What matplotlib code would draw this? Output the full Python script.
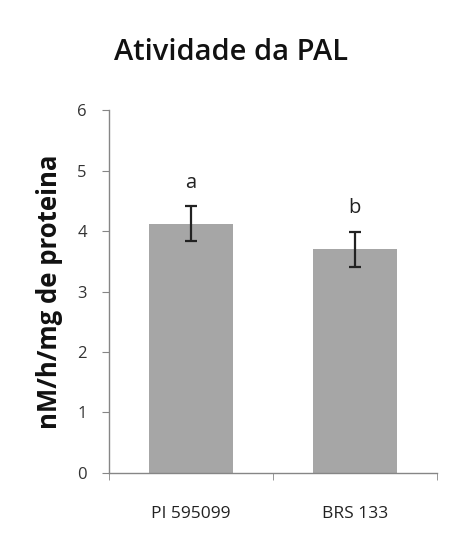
import matplotlib
matplotlib.use("Agg")
import matplotlib.pyplot as plt
import numpy as np

categories = ["PI 595099", "BRS 133"]
values = [4.12, 3.70]
errors = [0.29, 0.29]
letters = ["a", "b"]
yticks = [0, 1, 2, 3, 4, 5, 6]

plt.rcParams['font.family'] = ['Open Sans', 'DejaVu Sans']

fig = plt.figure(figsize=(4.49, 5.35), dpi=100)
ax = fig.add_axes([0.243, 0.116, 0.730, 0.678])

x = np.arange(len(categories))
ax.bar(x, values, width=0.51, color="#A6A6A6", zorder=2)
ax.errorbar(x, values, yerr=errors, fmt="none", ecolor="#222222",
            elinewidth=1.6, capsize=4, capthick=1.6, zorder=3)
for xi, v, e, t in zip(x, values, errors, letters):
    ax.text(xi, v + e + 0.31, t, ha="center", va="baseline", fontsize=14.5,
            color="#222222")

ax.set_xlim(-0.5, 1.5)
ax.set_ylim(0, 6)
ax.set_yticks(yticks)
ax.set_xticks(x)
ax.set_xticklabels(categories)
ax.set_xticks([-0.5, 0.5, 1.5], minor=True)
ax.tick_params(axis="x", which="major", length=0, pad=24, labelsize=12.5,
               colors="#222222")
ax.tick_params(axis="x", which="minor", length=5, color="#868686")
ax.tick_params(axis="y", length=5, color="#868686", labelsize=12,
               labelcolor="#333333", pad=11)

for s in ["top", "right"]:
    ax.spines[s].set_visible(False)
for s in ["left", "bottom"]:
    ax.spines[s].set_color("#868686")
    ax.spines[s].set_linewidth(1.0)

ax.set_ylabel("nM/h/mg de proteina", fontsize=18.5, fontweight="bold",
              labelpad=10, color="#111111")
fig.text(0.515, 0.902, "Atividade da PAL", ha="center", va="center",
         fontsize=21, fontweight="semibold", color="#111111")

fig.savefig("out.png", dpi=100)
